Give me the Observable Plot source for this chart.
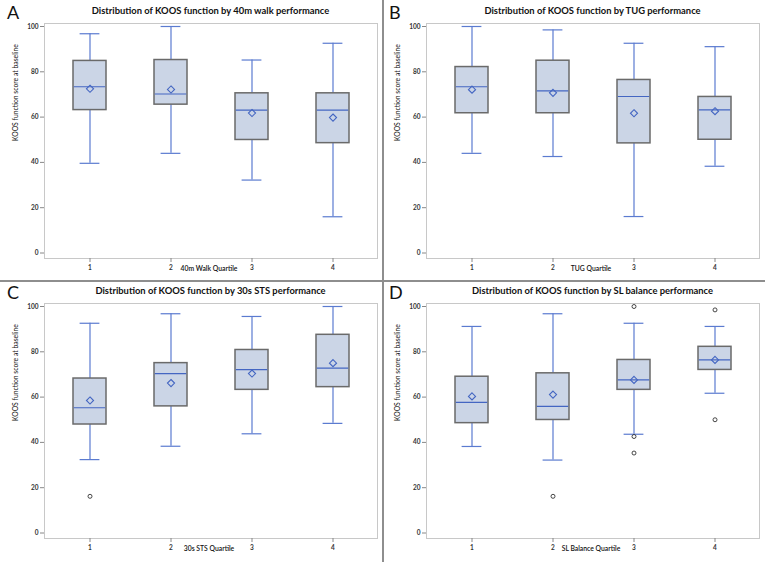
<!DOCTYPE html>
<html>
<head>
<meta charset="utf-8">
<script src="https://cdn.jsdelivr.net/npm/d3@7"></script>
<script src="https://cdn.jsdelivr.net/npm/@observablehq/plot@0.6"></script>
<style>
  body { margin: 0; background: #fff; }
  #fig { position: relative; width: 765px; height: 562px; overflow: hidden; font-family: Lato, "Open Sans", sans-serif; background: #fff; }
  .panel { position: absolute; width: 382px; height: 281px; }
  .panel svg { position: absolute; left: 0; top: 0; }
  .letter { position: absolute; left: 7px; top: 1px; font-size: 18px; line-height: 22px; color: #111; }
  .title { position: absolute; left: 44px; width: 333px; top: 5px; text-align: center; font-weight: bold; font-size: 9.4px; line-height: 11px; color: #111; white-space: nowrap; }
  .vdiv { position: absolute; left: 382px; top: 0; width: 2px; height: 562px; background: #8e8e8e; }
  .hdiv { position: absolute; left: 0; top: 280px; width: 765px; height: 2px; background: #8e8e8e; }
</style>
</head>
<body>
<div id="fig"></div>
<script>
// ---- data ----
const quartiles = ["1", "2", "3", "4"];
const panelLetters = ["A", "B", "C", "D"];
const panelTitles = [
  "Distribution of KOOS function by 40m walk performance",
  "Distribution of KOOS function by TUG performance",
  "Distribution of KOOS function by 30s STS performance",
  "Distribution of KOOS function by SL balance performance"
];
const xLabels = ["40m Walk Quartile", "TUG Quartile", "30s STS Quartile", "SL Balance Quartile"];
const yLabel = "KOOS function score at baseline";
const yTicks = [0, 20, 40, 60, 80, 100];

// per panel (A, B, C, D), per quartile (1..4)
const whiskerLow = [
  [39.6, 44.0, 32.2, 16.0],
  [44.0, 42.6, 16.1, 38.3],
  [32.4, 38.3, 43.8, 48.4],
  [38.2, 32.2, 43.6, 61.7]
];
const q1 = [
  [63.1, 65.5, 49.9, 48.5],
  [61.7, 61.7, 48.4, 50.0],
  [47.9, 55.9, 63.2, 64.4],
  [48.5, 49.9, 63.2, 72.0]
];
const median = [
  [73.4, 70.2, 63.1, 63.1],
  [73.4, 71.6, 69.1, 63.2],
  [55.3, 70.4, 72.1, 72.8],
  [57.7, 55.9, 67.6, 76.4]
];
const q3 = [
  [84.8, 85.2, 70.5, 70.5],
  [82.1, 84.9, 76.4, 68.9],
  [68.2, 75.0, 80.8, 87.5],
  [69.0, 70.5, 76.4, 82.2]
];
const whiskerHigh = [
  [96.8, 100.0, 85.2, 92.6],
  [100.0, 98.5, 92.6, 91.1],
  [92.6, 96.8, 95.6, 100.0],
  [91.2, 96.8, 92.6, 91.2]
];
const mean = [
  [72.5, 72.2, 61.8, 59.8],
  [72.1, 70.7, 61.7, 62.6],
  [58.5, 66.2, 70.4, 75.0],
  [60.3, 61.1, 67.6, 76.4]
];
// outliers: [quartile, value]
const outliers = [
  [],
  [],
  [["1", 16.2]],
  [["2", 16.2], ["3", 100.0], ["3", 42.6], ["3", 35.3], ["4", 98.5], ["4", 50.0]]
];

// ---- drawing ----
const blue = "#5b7bd0";
const medianBlue = "#4466c2";
const fig = document.getElementById("fig");
const offsets = [[0, 0], [382, 0], [0, 280], [382, 280]];

function makePanel(i) {
  const rows = quartiles.map((q, j) => ({
    q, low: whiskerLow[i][j], q1: q1[i][j], med: median[i][j],
    q3: q3[i][j], high: whiskerHigh[i][j], mean: mean[i][j]
  }));
  const out = outliers[i].map(([q, v]) => ({q, v}));
  return Plot.plot({
    width: 382, height: 281,
    marginLeft: 44, marginRight: 5, marginTop: 23, marginBottom: 23,
    style: {fontFamily: "Lato, 'Open Sans', sans-serif", background: "transparent", overflow: "visible"},
    x: {domain: quartiles, paddingInner: 0.594, paddingOuter: 0.345},
    y: {domain: [0, 100], insetTop: 3, insetBottom: 5.5},
    marks: [
      Plot.frame({stroke: "#c8c8c8"}),
      Plot.axisY({ticks: yTicks, tickSize: 4, tickPadding: 2, stroke: "#888", fill: "#333", fontSize: 6.5, fontWeight: "bold", label: null}),
      Plot.axisX({tickSize: 4, tickPadding: 3, stroke: "#888", fill: "#333", fontSize: 6.5, fontWeight: "bold", label: null}),
      Plot.text([yLabel], {frameAnchor: "left", rotate: -90, dx: -29, fontSize: 6.8, fill: "#111", text: d => d}),
      Plot.text([xLabels[i]], {frameAnchor: "bottom", dy: 12, dx: -2, fontSize: 6.8, fontWeight: 600, fill: "#111", text: d => d}),
      Plot.ruleX(rows, {x: "q", y1: "low", y2: "q1", stroke: blue, strokeWidth: 1.2}),
      Plot.ruleX(rows, {x: "q", y1: "q3", y2: "high", stroke: blue, strokeWidth: 1.2}),
      Plot.tickY(rows, {x: "q", y: "low", stroke: blue, strokeWidth: 1.2, insetLeft: 6.6, insetRight: 6.6}),
      Plot.tickY(rows, {x: "q", y: "high", stroke: blue, strokeWidth: 1.2, insetLeft: 6.6, insetRight: 6.6}),
      Plot.barY(rows, {x: "q", y1: "q1", y2: "q3", fill: "#cbd5e6", stroke: "#6a6a6a", strokeWidth: 1.5}),
      Plot.tickY(rows, {x: "q", y: "med", stroke: medianBlue, strokeWidth: 1.2, insetLeft: 0.8, insetRight: 0.8}),
      Plot.dot(rows, {x: "q", y: "mean", symbol: "diamond2", r: 3.2, stroke: medianBlue, strokeWidth: 1.1, fill: "none"}),
      Plot.dot(out, {x: "q", y: "v", symbol: "circle", r: 2, stroke: "#333", strokeWidth: 0.9, fill: "none"})
    ]
  });
}

for (let i = 0; i < 4; i++) {
  const p = document.createElement("div");
  p.className = "panel";
  p.style.left = offsets[i][0] + "px";
  p.style.top = offsets[i][1] + "px";
  p.appendChild(makePanel(i));
  const l = document.createElement("div");
  l.className = "letter";
  l.textContent = panelLetters[i];
  p.appendChild(l);
  const t = document.createElement("div");
  t.className = "title";
  t.textContent = panelTitles[i];
  p.appendChild(t);
  fig.appendChild(p);
}
const v = document.createElement("div"); v.className = "vdiv"; fig.appendChild(v);
const h = document.createElement("div"); h.className = "hdiv"; fig.appendChild(h);
</script>
</body>
</html>
